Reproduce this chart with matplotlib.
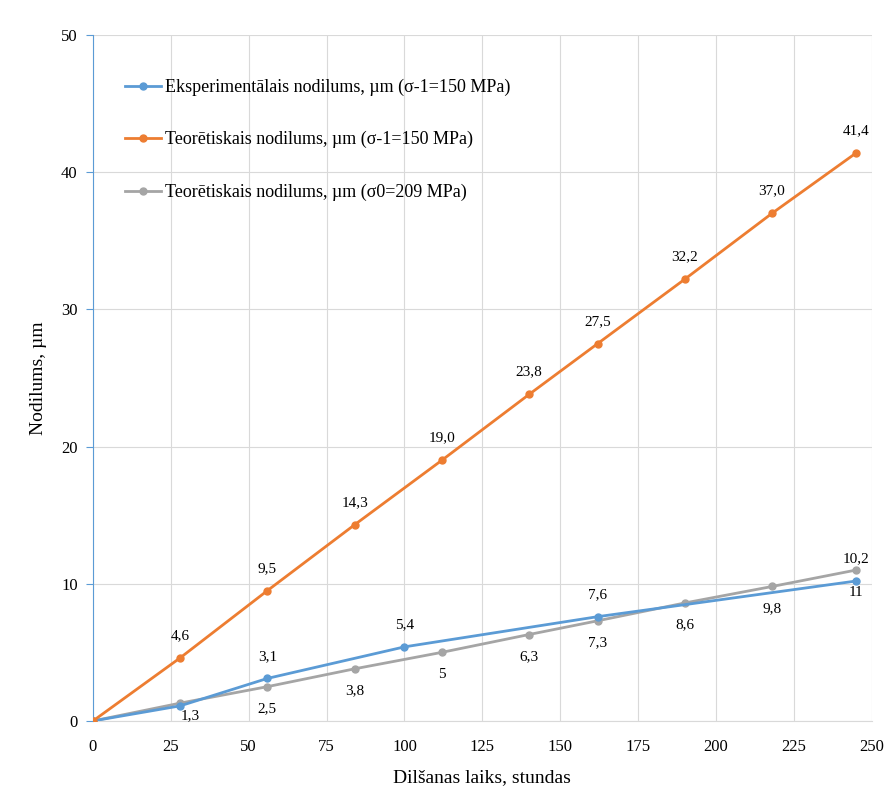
import matplotlib.pyplot as plt

plt.rcParams['font.family'] = ['Liberation Serif', 'DejaVu Serif']

# data
x_exp = [0, 28, 56, 100, 162, 245]
y_exp = [0, 1.1, 3.1, 5.4, 7.6, 10.2]
lab_exp = ['', '', '3,1', '5,4', '7,6', '10,2']

x_teo = [0, 28, 56, 84, 112, 140, 162, 190, 218, 245]
y_teo1 = [0, 4.6, 9.5, 14.3, 19.0, 23.8, 27.5, 32.2, 37.0, 41.4]
lab_teo1 = ['', '4,6', '9,5', '14,3', '19,0', '23,8', '27,5', '32,2', '37,0', '41,4']
y_teo0 = [0, 1.3, 2.5, 3.8, 5.0, 6.3, 7.3, 8.6, 9.8, 11.0]
lab_teo0 = ['', '1,3', '2,5', '3,8', '5', '6,3', '7,3', '8,6', '9,8', '11']

names = ['Eksperimentālais nodilums, µm (σ-1=150 MPa)',
         'Teorētiskais nodilums, µm (σ-1=150 MPa)',
         'Teorētiskais nodilums, µm (σ0=209 MPa)']
colors = ['#5B9BD5', '#ED7D31', '#A5A5A5']

fig = plt.figure(figsize=(8.87, 7.94), dpi=100)
ax = fig.add_axes([0.1048, 0.092, 0.878, 0.864])

ax.plot(x_exp, y_exp, '-o', color=colors[0], lw=2, ms=5, label=names[0], zorder=3)
ax.plot(x_teo, y_teo1, '-o', color=colors[1], lw=2, ms=5, label=names[1], zorder=3)
ax.plot(x_teo, y_teo0, '-o', color=colors[2], lw=2, ms=5, label=names[2], zorder=2)

# data labels
for x, y, t in zip(x_teo, y_teo1, lab_teo1):
    if t:
        ax.annotate(t, (x, y), xytext=(0, 16), textcoords='offset points',
                    ha='center', va='center', fontsize=11)
for x, y, t in zip(x_exp, y_exp, lab_exp):
    if t:
        ax.annotate(t, (x, y), xytext=(0, 16), textcoords='offset points',
                    ha='center', va='center', fontsize=11)
for x, y, t in zip(x_teo, y_teo0, lab_teo0):
    if t:
        dx, dy = (7, -9) if x == 28 else (0, -16)
        ax.annotate(t, (x, y), xytext=(dx, dy), textcoords='offset points',
                    ha='center', va='center', fontsize=11)

ax.set_xlim(0, 250)
ax.set_ylim(0, 50)
ax.set_xticks(range(0, 251, 25))
ax.set_yticks(range(0, 51, 10))
ax.grid(True, color='#D9D9D9', lw=0.8)
ax.set_axisbelow(True)

for s in ['top', 'right']:
    ax.spines[s].set_visible(False)
ax.spines['left'].set_color('#5B9BD5')
ax.spines['bottom'].set_color('#D9D9D9')
ax.tick_params(axis='x', length=0, labelsize=12, pad=13)
ax.tick_params(axis='y', length=5, color='#5B9BD5', labelsize=12, pad=6)

ax.set_xlabel('Dilšanas laiks, stundas', fontsize=14, labelpad=10)
ax.set_ylabel('Nodilums, µm', fontsize=14, labelpad=10)

ax.legend(loc='upper left', bbox_to_anchor=(0.02, 0.96), frameon=False,
          fontsize=13, labelspacing=1.95, handlelength=2.0, handletextpad=0.2)

fig.savefig('out.png', dpi=100)
